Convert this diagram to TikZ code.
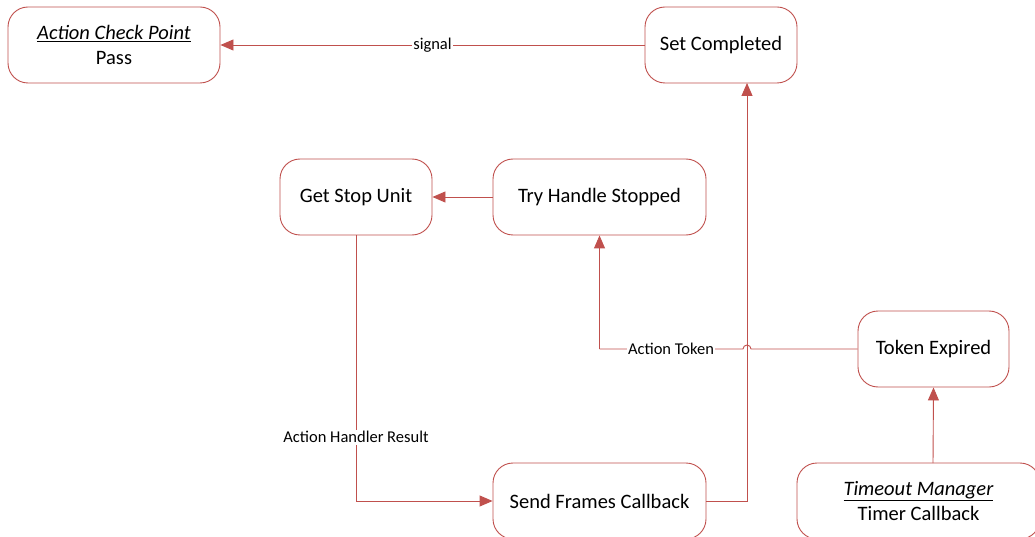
\documentclass[tikz,border=0pt]{standalone}
\usepackage{fontspec}
\setmainfont{Carlito}
\usetikzlibrary{arrows.meta}
\definecolor{lred}{HTML}{C0504D}
\tikzset{
  box/.style={draw=lred, line width=0.9pt, rounded corners=20pt, fill=white, inner sep=0pt, align=center, font=\fontsize{20.5}{25}\selectfont},
  conn/.style={draw=lred, line width=0.9pt, -{Triangle[length=13pt,width=11pt]}},
  plain/.style={draw=lred, line width=0.9pt},
  lbl/.style={fill=white, inner sep=1.5pt, font=\fontsize{16.5}{20}\selectfont}
}
\begin{document}
\begin{tikzpicture}[x=1pt,y=-1pt]
\useasboundingbox (0,0) rectangle (1035,537);
\begin{scope}
\clip (0,0) rectangle (1035,537);
\node[box, minimum width=212pt, minimum height=76pt] (acp) at (114,45) {\underline{\textit{Action Check Point}}\\Pass};
\node[box, minimum width=152pt, minimum height=76pt] (sc) at (721,45) {Set Completed};
\node[box, minimum width=152pt, minimum height=76pt] (gsu) at (356,197) {Get Stop Unit};
\node[box, minimum width=213pt, minimum height=76pt] (ths) at (599.5,197) {Try Handle Stopped};
\node[box, minimum width=151pt, minimum height=76pt] (te) at (933.5,349) {Token Expired};
\node[box, minimum width=213pt, minimum height=76pt] (sfc) at (599.5,501) {Send Frames Callback};
\node[box, minimum width=243pt, minimum height=76pt] (tm) at (918.5,501) {\underline{\textit{Timeout Manager}}\\Timer Callback};

\coordinate (scin) at (747,83);
\coordinate (tmout) at (933,463);
\coordinate (hop) at (751,349);
\coordinate (bend) at (599.5,349);
\draw[conn] (sc.west) -- node[lbl] {signal} (acp.east);
\draw[conn] (sfc.east) -| (scin);
\draw[conn] (gsu.south) |- node[lbl, pos=0.38] {Action Handler Result} (sfc.west);
\draw[conn] (ths.west) -- (gsu.east);
\draw[conn] (tmout) -- (te.south);
\draw[plain] (te.west) -- (hop) arc[start angle=0, end angle=-180, radius=4] -- (bend);
\draw[conn] (bend) -- (ths.south);
\node[lbl] (atl) at (671,349) {Action Token};
\end{scope}
\end{tikzpicture}
\end{document}
